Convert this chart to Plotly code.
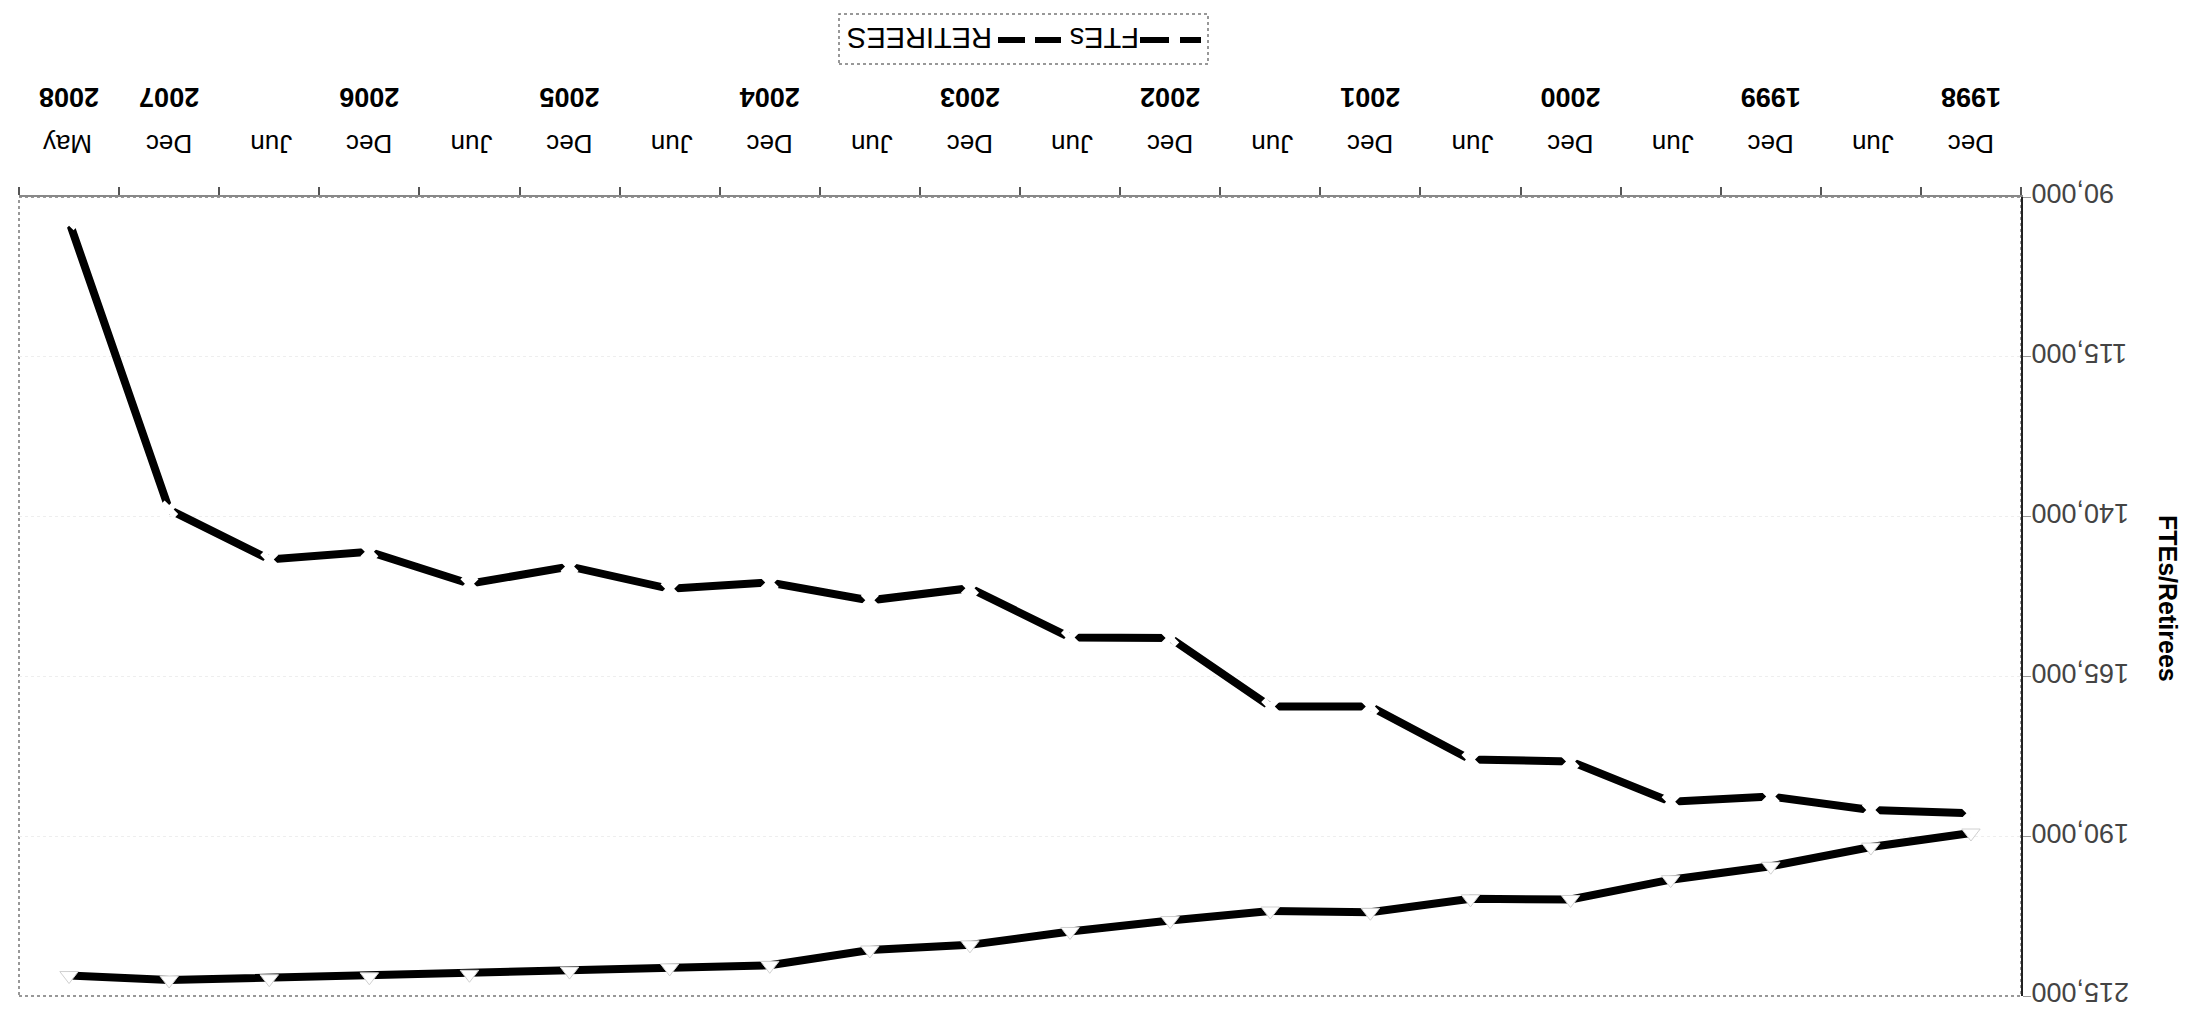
import plotly.graph_objects as go

categories = ["Dec 1998", "Jun 1999", "Dec 1999", "Jun 2000", "Dec 2000", "Jun 2001",
              "Dec 2001", "Jun 2002", "Dec 2002", "Jun 2003", "Dec 2003", "Jun 2004",
              "Dec 2004", "Jun 2005", "Dec 2005", "Jun 2006", "Dec 2006", "Jun 2007",
              "Dec 2007", "May 2008"]
month_labels = ["Dec", "Jun", "Dec", "Jun", "Dec", "Jun", "Dec", "Jun", "Dec", "Jun",
                "Dec", "Jun", "Dec", "Jun", "Dec", "Jun", "Dec", "Jun", "Dec", "May"]
year_ticks = ["Dec 1998", "Dec 1999", "Dec 2000", "Dec 2001", "Dec 2002", "Dec 2003",
              "Dec 2004", "Dec 2005", "Dec 2006", "Dec 2007", "May 2008"]
year_labels = ["1998", "1999", "2000", "2001", "2002", "2003", "2004", "2005", "2006",
               "2007", "2008"]

ftes = [186400, 185900, 183800, 184600, 178300, 178000, 169700, 169700, 159000, 158900,
        151200, 153100, 150300, 151300, 147800, 150500, 145500, 146700, 138900, 93800]
retirees = [189500, 191700, 194700, 196800, 199900, 199800, 201900, 201700, 203200, 204900,
            207000, 207800, 210200, 210600, 211100, 211600, 212000, 212300, 212500, 211800]

y_ticks = [90000, 115000, 140000, 165000, 190000, 215000]

FONT = "Liberation Sans, Arial, sans-serif"

fig = go.Figure()
fig.add_trace(go.Scatter(
    x=categories, y=ftes, name="FTEs", mode="lines+markers",
    line=dict(color="black", width=8),
    marker=dict(symbol="x", size=16, color="white", line=dict(width=0)),
    xaxis="x", yaxis="y", showlegend=False))
fig.add_trace(go.Scatter(
    x=categories, y=retirees, name="RETIREES", mode="lines+markers",
    line=dict(color="black", width=8),
    marker=dict(symbol="triangle-down", size=16, color="white",
                line=dict(width=1, color="#d0d0d0")),
    xaxis="x2", yaxis="y", showlegend=False))

W, H = 2191, 1028
L, R, T, B = 11, 178, 189, 40
pw, ph = W - L - R, H - T - B
n = len(categories)
xrange = [n - 0.5, -0.5]


def px(xp):
    return (xp - L) / pw


def py(yp):
    return (H - B - yp) / ph


fig.update_layout(
    width=W, height=H,
    margin=dict(l=L, r=R, t=T, b=B, autoexpand=False),
    paper_bgcolor="white", plot_bgcolor="white",
    font=dict(family=FONT, color="black"),
    xaxis=dict(
        type="category", categoryorder="array", categoryarray=categories,
        range=xrange, autorange=False, side="top", tickson="boundaries",
        tickmode="array", tickvals=categories, ticktext=month_labels,
        tickangle=180, tickfont=dict(size=26, family=FONT),
        ticks="outside", ticklen=8, tickcolor="#555", tickwidth=1.5,
        showline=True, linecolor="#888", linewidth=2,
        showgrid=False, zeroline=False, ticklabelstandoff=24, ticklabelshift=-23,
        automargin=False,
    ),
    xaxis2=dict(
        type="category", categoryorder="array", categoryarray=categories,
        overlaying="x", range=xrange, autorange=False, side="top",
        tickmode="array", tickvals=year_ticks,
        ticktext=["<b>%s</b>" % y for y in year_labels],
        tickangle=180, tickfont=dict(size=27, family=FONT),
        ticks="", showline=False, showgrid=False, zeroline=False,
        ticklabelstandoff=76, ticklabelshift=-30, automargin=False,
    ),
    yaxis=dict(
        range=[215000, 90000], autorange=False, side="right", tickmode="array",
        tickvals=y_ticks,
        tickformat=",", tickangle=180, tickfont=dict(size=27, family=FONT),
        ticks="outside", ticklen=8, tickcolor="#999", tickwidth=1,
        showline=True, linecolor="#222", linewidth=2,
        showgrid=True, gridcolor="#eeeeee", griddash="dot", gridwidth=1,
        zeroline=False, ticklabelposition="inside", ticklabeloverflow="allow",
        ticklabelstandoff=-8, ticklabelshift=-5, automargin=False,
    ),
)

shapes = [
    dict(type="rect", xref="paper", yref="paper", x0=0, x1=1, y0=0, y1=1,
         line=dict(color="#777", width=1.5, dash="dot"), layer="below"),
    dict(type="rect", xref="paper", yref="paper", x0=px(831), x1=px(1200),
         y0=py(56), y1=py(6), line=dict(color="#777", width=1.5, dash="dot")),
]
for a, b in [(990, 1017), (1027, 1053), (1132, 1161), (1172, 1193)]:
    shapes.append(dict(type="line", xref="paper", yref="paper", x0=px(a), x1=px(b),
                       y0=py(32), y1=py(32), line=dict(color="black", width=6)))
fig.update_layout(shapes=shapes)

fig.add_annotation(text="RETIREES", xref="paper", yref="paper", x=px(912), y=py(30),
                   showarrow=False, textangle=180, font=dict(size=29, family=FONT),
                   xanchor="center", yanchor="middle")
fig.add_annotation(text="FTEs", xref="paper", yref="paper", x=px(1097), y=py(30),
                   showarrow=False, textangle=180, font=dict(size=29, family=FONT),
                   xanchor="center", yanchor="middle")
fig.add_annotation(text="<b>FTEs/Retirees</b>", xref="paper", yref="paper",
                   x=px(2160), y=py(590), showarrow=False, textangle=90,
                   font=dict(size=25, family=FONT), xanchor="center", yanchor="middle")

fig.write_html("out.html")
